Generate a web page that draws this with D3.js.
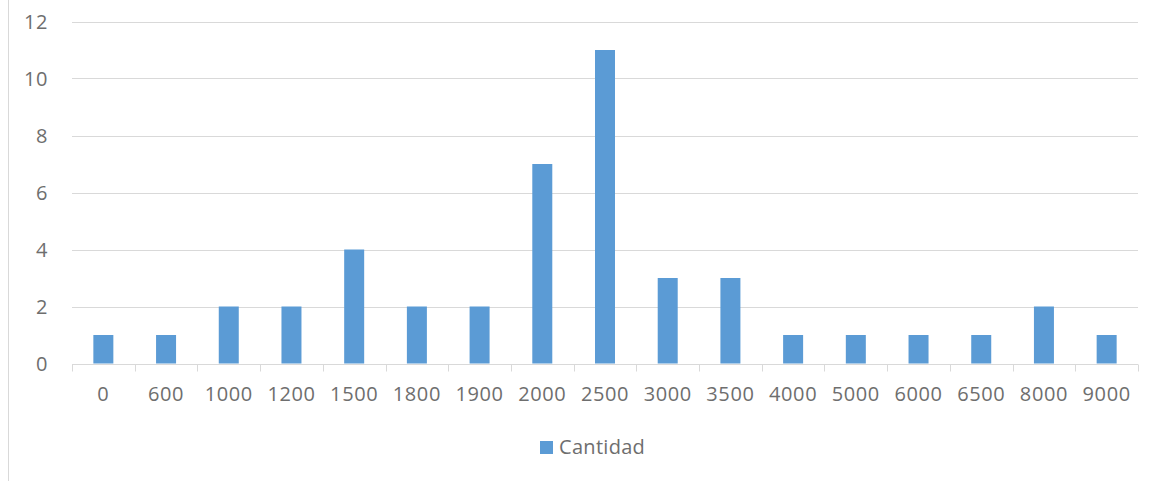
<!DOCTYPE html>
<html><head><meta charset="utf-8">
<script src="https://cdn.jsdelivr.net/npm/d3@7"></script>
<style>html,body{margin:0;padding:0;background:#fff;}</style>
</head><body>
<svg id="c" width="1158" height="481"></svg>
<script>
const categories = ["0","600","1000","1200","1500","1800","1900","2000","2500","3000","3500","4000","5000","6000","6500","8000","9000"];
const values = [1,1,2,2,4,2,2,7,11,3,3,1,1,1,1,2,1];
const yTicks = [0,2,4,6,8,10,12];
const seriesName = "Cantidad";

const svg = d3.select("#c");
const font = "'Open Sans', sans-serif";
const textColor = "#6e6e6e";
const gridColor = "#D9D9D9";
const barColor = "#5B9BD5";
const fs = 20;
const ls = "0.6px";

svg.append("line").attr("x1",8.5).attr("x2",8.5).attr("y1",0).attr("y2",481)
  .attr("stroke",gridColor).attr("stroke-width",1);

const x = d3.scaleBand().domain(categories).range([72,1138]).paddingInner(0).paddingOuter(0);
const y = d3.scaleLinear().domain([0,12]).range([363.5,21.5]);

svg.append("g").selectAll("line").data(yTicks.filter(d=>d>0)).join("line")
  .attr("x1",72).attr("x2",1138)
  .attr("y1",d=>Math.round(y(d))+0.5).attr("y2",d=>Math.round(y(d))+0.5)
  .attr("stroke",gridColor).attr("stroke-width",1);

svg.append("g").selectAll("text").data(yTicks).join("text")
  .attr("x",48).attr("y",d=>y(d)).attr("dy","0.35em")
  .attr("text-anchor","end").attr("font-family",font).attr("font-size",fs)
  .attr("letter-spacing",ls).attr("fill",textColor).text(d=>d);

const bw = 20;
svg.append("g").selectAll("rect").data(values).join("rect")
  .attr("x",(d,i)=>x(categories[i])+x.bandwidth()/2-bw/2)
  .attr("width",bw)
  .attr("y",d=>y(d))
  .attr("height",d=>y(0)-y(d))
  .attr("fill",barColor);

const y0 = Math.round(y(0))+0.5;
svg.append("line").attr("x1",72).attr("x2",1138).attr("y1",y0).attr("y2",y0)
  .attr("stroke",gridColor).attr("stroke-width",1);
const bounds = categories.map(c=>x(c)).concat([x.range()[1]]);
svg.append("g").selectAll("line").data(bounds).join("line")
  .attr("x1",d=>Math.round(d)+0.5).attr("x2",d=>Math.round(d)+0.5)
  .attr("y1",y0).attr("y2",y0+7)
  .attr("stroke",gridColor).attr("stroke-width",1);

svg.append("g").selectAll("text").data(categories).join("text")
  .attr("x",d=>x(d)+x.bandwidth()/2).attr("y",401)
  .attr("text-anchor","middle").attr("font-family",font).attr("font-size",fs)
  .attr("letter-spacing",ls).attr("fill",textColor).text(d=>d);

svg.append("rect").attr("x",540).attr("y",441).attr("width",13).attr("height",13).attr("fill",barColor);
svg.append("text").attr("x",559).attr("y",454).attr("font-family",font).attr("font-size",fs)
  .attr("letter-spacing","0.3px").attr("fill",textColor).text(seriesName);
</script>
</body></html>
